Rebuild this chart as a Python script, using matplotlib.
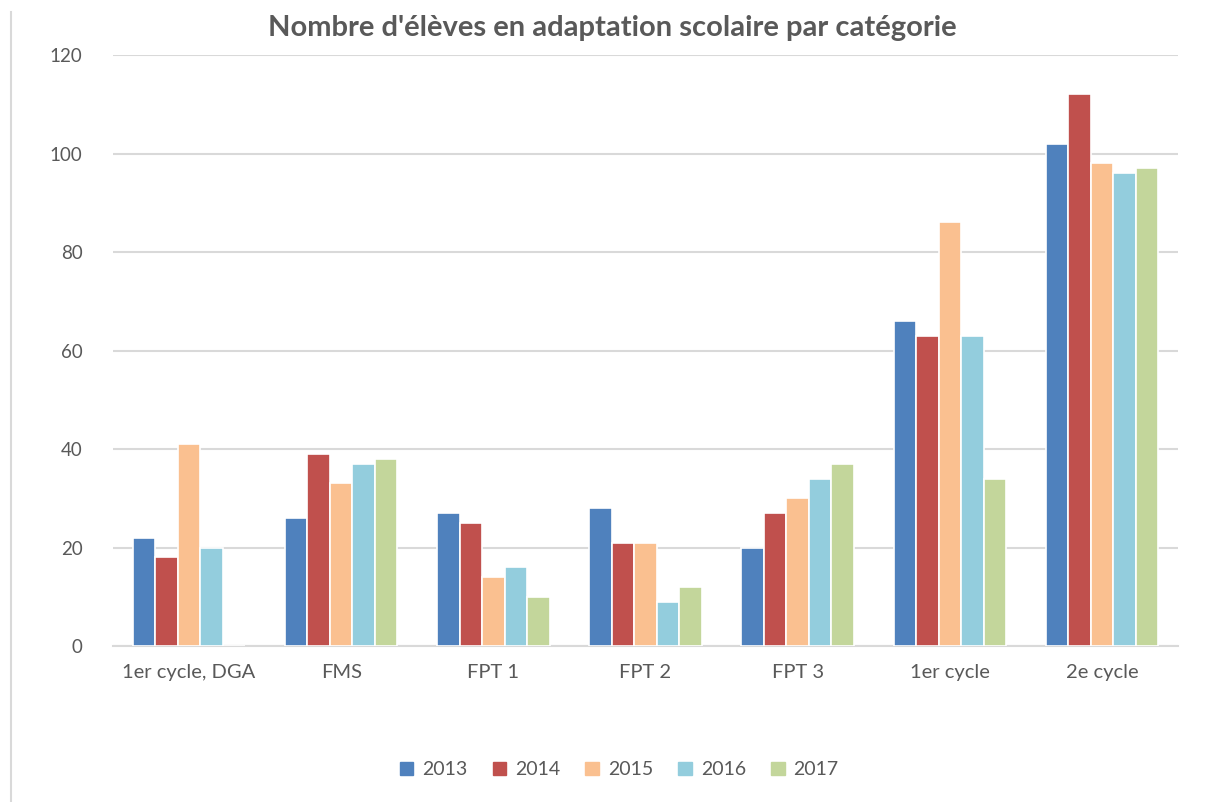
import matplotlib
matplotlib.use("Agg")
import matplotlib.pyplot as plt
from matplotlib.lines import Line2D
import numpy as np

categories = ["1er cycle, DGA", "FMS", "FPT 1", "FPT 2", "FPT 3", "1er cycle", "2e cycle"]
years = ["2013", "2014", "2015", "2016", "2017"]
v2013 = [22, 26, 27, 28, 20, 66, 102]
v2014 = [18, 39, 25, 21, 27, 63, 112]
v2015 = [41, 33, 14, 21, 30, 86, 98]
v2016 = [20, 37, 16, 9, 34, 63, 96]
v2017 = [0, 38, 10, 12, 37, 34, 97]
series = [v2013, v2014, v2015, v2016, v2017]
colors = ["#4F81BD", "#C0504D", "#FAC090", "#93CDDD", "#C3D69B"]

plt.rcParams['font.family'] = ['Lato', 'DejaVu Sans']
text_color = "#595959"

fig = plt.figure(figsize=(12.07, 8.02), dpi=100)
ax = fig.add_axes([0.0936, 0.1945, 0.8824, 0.7369])

x = np.arange(len(categories))
w = 0.148
for i, (vals, c, yr) in enumerate(zip(series, colors, years)):
    ax.bar(x + (i - 2) * w, vals, width=w, color=c, edgecolor="white",
           linewidth=1.2, label=yr, zorder=3)

ax.set_xlim(-0.5, len(categories) - 0.5)
ax.set_ylim(0, 120)
ax.set_yticks(np.arange(0, 121, 20))
ax.set_xticks(x)
ax.set_xticklabels(categories)
ax.yaxis.grid(True, color="#D9D9D9", linewidth=1.5, zorder=0)
ax.set_axisbelow(True)
for s in ["top", "right", "left"]:
    ax.spines[s].set_visible(False)
ax.spines["bottom"].set_color("#D9D9D9")
ax.spines["bottom"].set_linewidth(1.5)
ax.tick_params(axis="both", length=0, labelcolor=text_color)
ax.tick_params(axis="y", labelsize=13.5, pad=22)
ax.tick_params(axis="x", labelsize=14.5, pad=13)

fig.text(0.507, 0.965, "Nombre d'élèves en adaptation scolaire par catégorie",
         ha="center", va="center", fontsize=21, fontweight="bold", color=text_color)

handles = [plt.Rectangle((0, 0), 1, 1, color=c) for c in colors]
fig.legend(handles, years, loc="center", bbox_to_anchor=(0.513, 0.04), ncol=5,
           frameon=False, fontsize=14, handlelength=0.7, handleheight=0.7,
           handletextpad=0.45, columnspacing=1.3, labelcolor=text_color)

fig.add_artist(Line2D([11 / 1207, 11 / 1207], [0, 1 - 12 / 802],
                      transform=fig.transFigure, color="#D9D9D9", linewidth=1.5))

fig.savefig("out.png", dpi=100, facecolor="white")
